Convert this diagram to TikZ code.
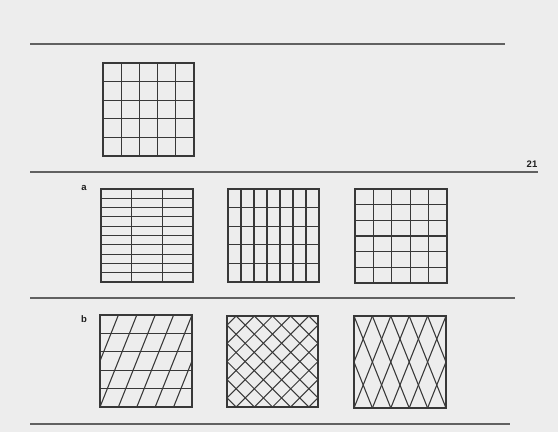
\documentclass[tikz,border=0pt]{standalone}
\usepackage{fontspec}
\setsansfont{Liberation Sans}
\begin{document}
\begin{tikzpicture}[x=1pt,y=-1pt,
  gridline/.style={draw=black!78, line width=1.05pt},
  rule/.style={draw=black!62, line width=1.4pt},
  lbl/.style={font=\sffamily\bfseries\fontsize{9.5}{10}\selectfont, text=black!88, inner sep=0pt}]
\fill[black!7] (0,0) rectangle (558,432);
\useasboundingbox (0,0) rectangle (558,432);
% rules
\draw[rule] (30,44) -- (505,44);
\draw[rule] (30,172) -- (538,172);
\draw[rule] (30,298) -- (515,298);
\draw[rule] (30,424) -- (510,424);
% labels
\node[lbl] (pagenum) at (532,164) {21};
\node[lbl] (labela) at (84,188) {a};
\node[lbl] (labelb) at (84,319) {b};
% grid 1: 5 x 5
\begin{scope}[shift={(103,63)}]
  \draw[gridline] (0,0) rectangle (91,93);
  \foreach \i in {1,...,4} {
    \draw[gridline] ({\i*91/5},0) -- ({\i*91/5},93);
    \draw[gridline] (0,{\i*93/5}) -- (91,{\i*93/5});
  }
\end{scope}
% a1: 3 cols, 10 rows
\begin{scope}[shift={(101,189)}]
  \draw[gridline] (0,0) rectangle (92,93);
  \foreach \i in {1,2} \draw[gridline] ({\i*92/3},0) -- ({\i*92/3},93);
  \foreach \j in {1,...,9} \draw[gridline] (0,{\j*9.3}) -- (92,{\j*9.3});
\end{scope}
% a2: 7 cols, 5 rows
\begin{scope}[shift={(228,189)}]
  \draw[gridline] (0,0) rectangle (91,93);
  \foreach \i in {1,...,6} \draw[gridline] ({\i*91/7},0) -- ({\i*91/7},93);
  \foreach \j in {1,...,4} \draw[gridline] (0,{\j*93/5}) -- (91,{\j*93/5});
\end{scope}
% a3: 5 cols, 6 rows
\begin{scope}[shift={(355,189)}]
  \draw[gridline] (0,0) rectangle (92,94);
  \foreach \i in {1,...,4} \draw[gridline] ({\i*92/5},0) -- ({\i*92/5},94);
  \foreach \j in {1,...,5} \draw[gridline] (0,{\j*94/6}) -- (92,{\j*94/6});
\end{scope}
% b1: rows + slanted lines
\begin{scope}[shift={(100,315)}]
  \begin{scope}
    \clip (0,0) rectangle (92,92);
    \foreach \k in {-2,...,4}
      \draw[gridline] ({\k*18.4},92) -- ({(\k+2)*18.4},0);
  \end{scope}
  \foreach \j in {1,...,4} \draw[gridline] (0,{\j*18.4}) -- (92,{\j*18.4});
  \draw[gridline] (0,0) rectangle (92,92);
\end{scope}
% b2: 45 degree lattice
\begin{scope}[shift={(227,316)}]
  \begin{scope}
    \clip (0,0) rectangle (91,91);
    \foreach \k in {-5,...,10} {
      \draw[gridline] ({(\k+0.5)*18.2},0) -- ({(\k+0.5)*18.2+91},91);
      \draw[gridline] ({(\k+0.5)*18.2},0) -- ({(\k+0.5)*18.2-91},91);
    }
  \end{scope}
  \draw[gridline] (0,0) rectangle (91,91);
\end{scope}
% b3: steep diamond lattice
\begin{scope}[shift={(354,316)}]
  \begin{scope}
    \clip (0,0) rectangle (92,92);
    \foreach \k in {-2,...,7} {
      \draw[gridline] ({\k*18.4},0) -- ({(\k+2)*18.4},92);
      \draw[gridline] ({\k*18.4},0) -- ({(\k-2)*18.4},92);
    }
  \end{scope}
  \draw[gridline] (0,0) rectangle (92,92);
\end{scope}
\end{tikzpicture}
\end{document}
